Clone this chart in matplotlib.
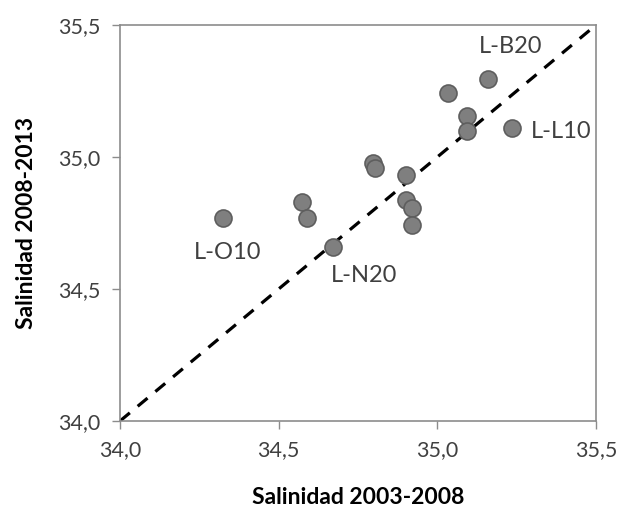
import matplotlib
matplotlib.use("Agg")
import matplotlib.pyplot as plt
from matplotlib.ticker import FuncFormatter

# salinity per station: 2003-2008 vs 2008-2013
sal_0308 = [34.326, 34.572, 34.590, 34.672, 34.796, 34.803, 34.901, 34.900,
            34.920, 34.920, 35.035, 35.159, 35.093, 35.093, 35.234]
sal_0813 = [34.768, 34.831, 34.768, 34.658, 34.977, 34.958, 34.933, 34.838,
            34.806, 34.743, 35.242, 35.296, 35.156, 35.100, 35.110]

# named stations: (index into the arrays, label, offset in pixels)
station_idx = [0, 3, 11, 14]
station_names = ["L-O10", "L-N20", "L-B20", "L-L10"]
name_offsets = [(4, -34), (31, -28), (23, 32), (50, -4)]

ticks = [34.0, 34.5, 35.0, 35.5]

plt.rcParams['font.family'] = ['Lato', 'DejaVu Sans']
fig = plt.figure(figsize=(6.22, 5.08), dpi=100)
ax = fig.add_axes([120 / 622, 87 / 508, 476 / 622, 396 / 508])

ax.plot([ticks[0], ticks[-1]], [ticks[0], ticks[-1]], color='black',
        lw=2.3, dashes=(4, 3.2), zorder=2)
ax.scatter(sal_0308, sal_0813, s=150, facecolor='#7f7f7f',
           edgecolor='#5e5e5e', linewidth=1.2, zorder=3)

for i, name, off in zip(station_idx, station_names, name_offsets):
    ax.annotate(name, (sal_0308[i], sal_0813[i]), xytext=off,
                textcoords='offset pixels', ha='center', va='center',
                fontsize=17, color='#404040')

ax.set_xlim(ticks[0], ticks[-1])
ax.set_ylim(ticks[0], ticks[-1])
ax.set_xticks(ticks)
ax.set_yticks(ticks)
fmt = FuncFormatter(lambda v, p: f"{v:.1f}".replace('.', ','))
ax.xaxis.set_major_formatter(fmt)
ax.yaxis.set_major_formatter(fmt)
ax.tick_params(direction='out', length=6, width=1, color='#8c8c8c',
               labelsize=15.5, labelcolor='#404040', pad=8)
for sp in ax.spines.values():
    sp.set_color('#8c8c8c')
    sp.set_linewidth(1.2)

ax.set_xlabel('Salinidad 2003-2008', fontsize=16.5, fontweight='bold',
              labelpad=19)
ax.set_ylabel('Salinidad 2008-2013', fontsize=16.5, fontweight='bold',
              labelpad=15)

fig.savefig('out.png', dpi=100)
